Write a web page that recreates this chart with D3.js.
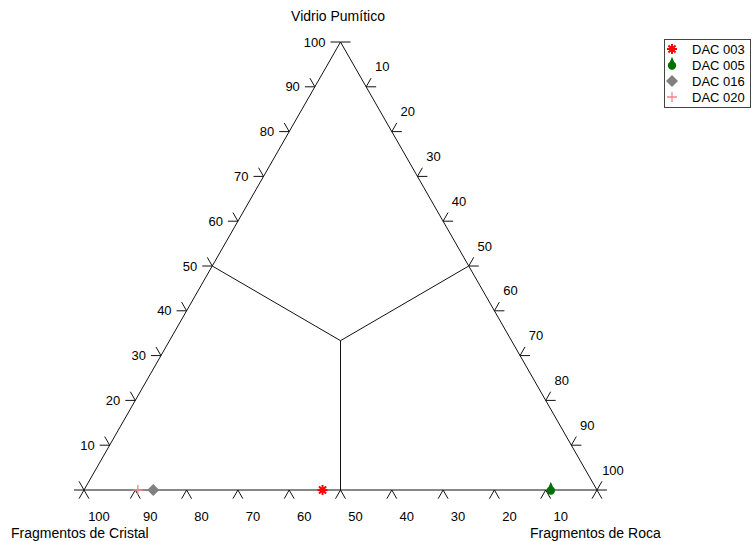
<!DOCTYPE html>
<html>
<head>
<meta charset="utf-8">
<script src="https://cdn.jsdelivr.net/npm/d3@7"></script>
<style>
  html, body { margin: 0; padding: 0; background: #fff; }
  svg { display: block; }
  text { font-family: "Liberation Sans", Arial, sans-serif; fill: #000; }
</style>
</head>
<body>
<svg id="chart" width="752" height="541"></svg>
<script>
// Sample composition (percent): crystal fragments, rock fragments, pumice glass
const samples = ["DAC 003", "DAC 005", "DAC 016", "DAC 020"];
const cristal = [53.5, 9, 86.5, 89.5];
const roca    = [46.5, 91, 13.5, 10.5];
const vidrio  = [0, 0, 0, 0];
const colors  = ["#ff0000", "#007000", "#808080", "#f08890"];
const shapes  = ["asterisk", "drop", "diamond", "plus"];

const tickValues = [0, 10, 20, 30, 40, 50, 60, 70, 80, 90, 100];
const axisTitles = ["Vidrio Pumítico", "Fragmentos de Cristal", "Fragmentos de Roca"];

const svg = d3.select("#chart");

// Horizontal position runs along the base (roca + vidrio/2), vertical follows vidrio
const x = d3.scaleLinear().domain([0, 100]).range([84, 597]);
const y = d3.scaleLinear().domain([0, 100]).range([490, 42]);
const proj = (c, r, v) => [x(r + v / 2), y(v)];

const A = proj(0, 0, 100), B = proj(100, 0, 0), C = proj(0, 100, 0);
const centre = proj(100 / 3, 100 / 3, 100 / 3);

const g = svg.append("g");
const line = d3.line();

// Triangle outline
g.append("path")
  .attr("d", line([A, B, C]) + "Z")
  .attr("fill", "none").attr("stroke", "#111").attr("stroke-width", 1);

// Dividing lines from the centroid to each side's midpoint
[proj(50, 0, 50), proj(0, 50, 50), proj(50, 50, 0)].forEach(m => {
  g.append("path").attr("d", line([centre, m]))
    .attr("fill", "none").attr("stroke", "#111").attr("stroke-width", 1);
});

// Unit vectors along the sides
function unit(p, q) {
  const dx = q[0] - p[0], dy = q[1] - p[1], l = Math.hypot(dx, dy);
  return [dx / l, dy / l];
}
const uL = unit(B, A);   // up the left side
const uR = unit(A, C);   // down the right side
const TL = 10;

function tick(p, dirs) {
  dirs.forEach(d => {
    g.append("path")
      .attr("d", line([p, [p[0] + d[0] * TL, p[1] + d[1] * TL]]))
      .attr("stroke", "#111").attr("stroke-width", 1);
  });
}

// Left axis: Vidrio Pumítico, 0 at bottom-left, 100 at apex
tickValues.forEach(v => {
  const p = proj(100 - v, 0, v);
  tick(p, v === 100 ? [[-1, 0]] : [[-1, 0], [-uR[0], -uR[1]]]);
  if (v > 0) {
    g.append("text").attr("x", p[0] - 15).attr("y", p[1] + 4.5)
      .attr("text-anchor", "end").attr("font-size", 13).text(v);
  }
});

// Right axis: Fragmentos de Roca, 0 at apex, 100 at bottom-right
tickValues.forEach(r => {
  const p = proj(0, r, 100 - r);
  tick(p, r === 0 ? [[1, 0]] : [[1, 0], uL]);
  if (r > 0) {
    g.append("text").attr("x", p[0] + 16).attr("y", p[1] - 20 + 4.5)
      .attr("text-anchor", "middle").attr("font-size", 13).text(r);
  }
});

// Base axis: Fragmentos de Cristal, 100 at bottom-left, 0 at bottom-right
tickValues.forEach(c => {
  const p = proj(c, 100 - c, 0);
  tick(p, [[-uL[0], -uL[1]], uR]);
  if (c > 0) {
    g.append("text").attr("x", p[0] + 15).attr("y", p[1] + 31)
      .attr("text-anchor", "middle").attr("font-size", 13).text(c);
  }
});

// Axis titles
g.append("text").attr("x", 338).attr("y", 21).attr("text-anchor", "middle")
  .attr("font-size", 14).text(axisTitles[0]);
g.append("text").attr("x", 11).attr("y", 538).attr("text-anchor", "start")
  .attr("font-size", 14).text(axisTitles[1]);
g.append("text").attr("x", 530).attr("y", 538).attr("text-anchor", "start")
  .attr("font-size", 14).text(axisTitles[2]);

// Marker drawing
function marker(sel, shape, color, cx, cy) {
  const m = sel.append("g").attr("transform", `translate(${cx},${cy})`);
  if (shape === "asterisk") {
    const r = 5;
    const d = d3.range(4).map(i => {
      const a = i * Math.PI / 4;
      return line([[-r * Math.cos(a), -r * Math.sin(a)], [r * Math.cos(a), r * Math.sin(a)]]);
    }).join("");
    m.append("path").attr("d", d).attr("stroke", color).attr("stroke-width", 2).attr("fill", "none");
  } else if (shape === "drop") {
    const r = 4.2;
    const p = d3.path();
    p.moveTo(0, -r - 4);
    p.lineTo(r * Math.cos(-Math.PI / 3), r * Math.sin(-Math.PI / 3) + 0.5);
    p.arc(0, 0.5, r, -Math.PI / 3, Math.PI + Math.PI / 3);
    p.closePath();
    m.append("path").attr("d", p.toString()).attr("fill", color);
  } else if (shape === "diamond") {
    const r = 6;
    m.append("path").attr("d", line([[0, -r], [r, 0], [0, r], [-r, 0]]) + "Z").attr("fill", color);
  } else if (shape === "plus") {
    const r = 5;
    m.append("path").attr("d", line([[-r, 0], [r, 0]]) + line([[0, -r], [0, r]]))
      .attr("stroke", color).attr("stroke-width", 1.3).attr("fill", "none");
  }
}

// Data points
const pts = svg.append("g");
samples.forEach((s, i) => {
  const p = proj(cristal[i], roca[i], vidrio[i]);
  marker(pts, shapes[i], colors[i], p[0], p[1]);
});

// Legend
const leg = svg.append("g");
leg.append("rect").attr("x", 664.5).attr("y", 39.5).attr("width", 86).attr("height", 68)
  .attr("fill", "#fff").attr("stroke", "#444").attr("stroke-width", 1);
samples.forEach((s, i) => {
  const cy = 49 + i * 16;
  marker(leg, shapes[i], colors[i], 672, cy);
  leg.append("text").attr("x", 692).attr("y", cy + 4.5).attr("font-size", 13).text(s);
});
</script>
</body>
</html>
